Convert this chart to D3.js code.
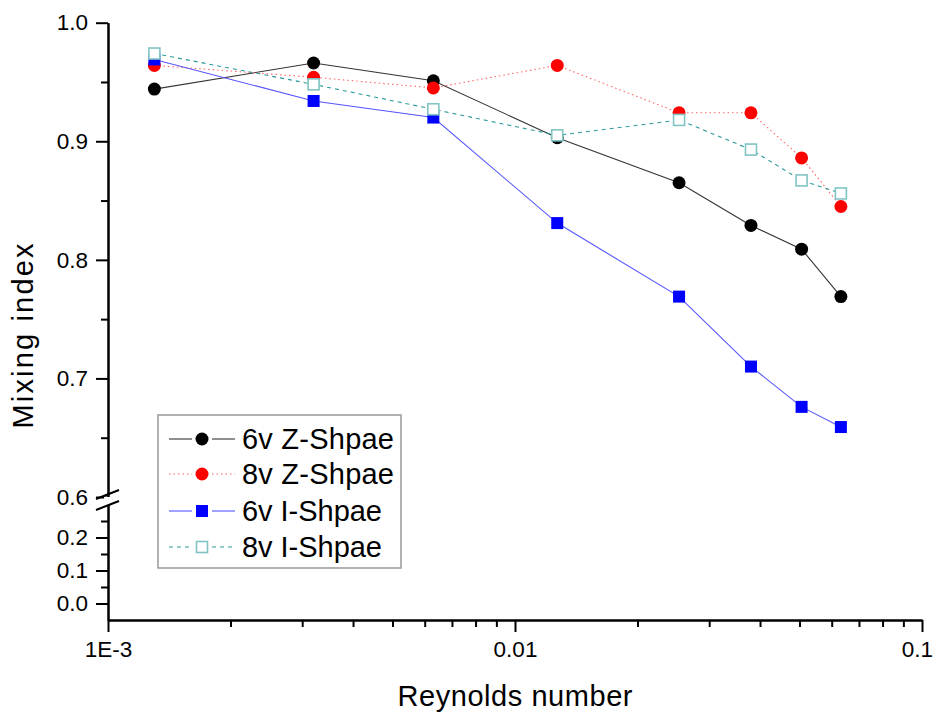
<!DOCTYPE html>
<meta charset="utf-8">
<style>
body { margin: 0; background: #fff; }
text { font-family: "Liberation Sans", Arial, sans-serif; fill: #000; }
.axis path, .axis line { stroke: #000; stroke-width: 2; }
.axis text { font-size: 22.5px; }
</style>
<svg width="936" height="714"></svg>
<script src="https://d3js.org/d3.v7.min.js"></script>
<script>
var reynolds = [0.0013, 0.0032, 0.0063, 0.0127, 0.0253, 0.038, 0.0506, 0.0632];
var z6 = [0.944, 0.966, 0.951, 0.903, 0.865, 0.829, 0.809, 0.769];
var z8 = [0.964, 0.954, 0.945, 0.964, 0.924, 0.924, 0.886, 0.845];
var i6 = [0.969, 0.934, 0.920, 0.831, 0.769, 0.710, 0.676, 0.659];
var i8 = [0.974, 0.948, 0.927, 0.905, 0.918, 0.893, 0.867, 0.856];
var seriesNames = ["6v Z-Shpae", "8v Z-Shpae", "6v I-Shpae", "8v I-Shpae"];

var xTicks = [0.001, 0.01, 0.1];
var xTickLabels = ["1E-3", "0.01", "0.1"];
var yUpperTicks = [0.6, 0.7, 0.8, 0.9, 1.0];
var yLowerTicks = [0.0, 0.1, 0.2];

var svg = d3.select("svg");

var x = d3.scaleLog().domain([0.001, 0.1]).range([108, 922]);
var yUp = d3.scaleLinear().domain([0.6, 1.0]).range([497, 22.7]);
var yLow = d3.scaleLinear().domain([-0.05, 0.3]).range([620, 504.5]);

// styles per series
var styles = [
  {data: z6, line: "#333", dash: null, marker: "circle", fill: "#000", stroke: "none"},
  {data: z8, line: "#f66", dash: "1.5,3", marker: "circle", fill: "#ff0000", stroke: "none"},
  {data: i6, line: "#55f", dash: null, marker: "square", fill: "#0000ff", stroke: "none"},
  {data: i8, line: "#2a9a9a", dash: "4,4", marker: "square", fill: "#fff", stroke: "#80c4c4"}
];

// x axis
var minorX = [];
[0.001, 0.01].forEach(function(d) { for (var k = 2; k < 10; k++) minorX.push(d * k); });

svg.append("g").attr("class", "axis")
    .attr("transform", "translate(0,620)")
    .call(d3.axisBottom(x).tickValues(minorX).tickSize(7).tickSizeOuter(0).tickFormat(""));
var xAxis = svg.append("g").attr("class", "axis")
    .attr("transform", "translate(0,620)")
    .call(d3.axisBottom(x).tickValues(xTicks).tickSize(12).tickSizeOuter(0).tickPadding(9)
      .tickFormat(function(d, i) { return xTickLabels[i]; }));
// last label sits at the right edge
xAxis.selectAll(".tick text").filter(function(d) { return d === 0.1; }).attr("dx", -5);

// upper y axis
svg.append("g").attr("class", "axis")
    .attr("transform", "translate(108,0)")
    .call(d3.axisLeft(yUp).tickValues([0.65, 0.75, 0.85, 0.95]).tickSize(7).tickSizeOuter(0).tickFormat(""));
svg.append("g").attr("class", "axis")
    .attr("transform", "translate(108,0)")
    .call(d3.axisLeft(yUp).tickValues(yUpperTicks).tickSize(12).tickSizeOuter(0).tickPadding(8).tickFormat(d3.format(".1f")));

// lower y axis
svg.append("g").attr("class", "axis")
    .attr("transform", "translate(108,0)")
    .call(d3.axisLeft(yLow).tickValues([0.05, 0.15, 0.25]).tickSize(7).tickSizeOuter(0).tickFormat(""));
svg.append("g").attr("class", "axis")
    .attr("transform", "translate(108,0)")
    .call(d3.axisLeft(yLow).tickValues(yLowerTicks).tickSize(12).tickSizeOuter(0).tickPadding(8).tickFormat(d3.format(".1f")));

// axis break marks
svg.append("rect").attr("x", 104).attr("y", 497).attr("width", 8).attr("height", 8).attr("fill", "#fff");
[[96, 499, 119, 490], [96, 510, 119, 501]].forEach(function(s) {
  svg.append("line").attr("x1", s[0]).attr("y1", s[1]).attr("x2", s[2]).attr("y2", s[3])
      .attr("stroke", "#000").attr("stroke-width", 2);
});

// series
var line = d3.line()
    .x(function(d, i) { return x(reynolds[i]); })
    .y(function(d) { return yUp(d); });

function drawMarker(g, s, cx, cy) {
  if (s.marker === "circle") {
    g.append("circle").attr("cx", cx).attr("cy", cy).attr("r", 6.5).attr("fill", s.fill);
  } else if (s.stroke === "none") {
    g.append("rect").attr("x", cx - 6).attr("y", cy - 6).attr("width", 12).attr("height", 12).attr("fill", s.fill);
  } else {
    g.append("rect").attr("x", cx - 5.5).attr("y", cy - 5.5).attr("width", 11).attr("height", 11)
        .attr("fill", s.fill).attr("stroke", s.stroke).attr("stroke-width", 1.6);
  }
}

styles.forEach(function(s) {
  var g = svg.append("g");
  g.append("path").datum(s.data)
      .attr("d", line)
      .attr("fill", "none")
      .attr("stroke", s.line)
      .attr("stroke-width", 1.1)
      .attr("stroke-dasharray", s.dash);
  s.data.forEach(function(v, i) { drawMarker(g, s, x(reynolds[i]), yUp(v)); });
});

// legend
var legend = svg.append("g");
legend.append("rect").attr("x", 158).attr("y", 415).attr("width", 243).attr("height", 153)
    .attr("fill", "#fff").attr("stroke", "#999").attr("stroke-width", 1.5);
var rowY = [439, 474, 511, 547];
styles.forEach(function(s, i) {
  [[169, 192], [212, 235]].forEach(function(seg) {
    legend.append("line").attr("x1", seg[0]).attr("x2", seg[1]).attr("y1", rowY[i]).attr("y2", rowY[i])
        .attr("stroke", s.line).attr("stroke-width", 1.1).attr("stroke-dasharray", s.dash);
  });
  drawMarker(legend, s, 202, rowY[i]);
  legend.append("text").attr("x", 242).attr("y", rowY[i] + 10)
      .style("font-size", "29px").attr("textLength", i < 2 ? 152 : 140).text(seriesNames[i]);
});

// axis titles
svg.append("text").attr("x", 515).attr("y", 706).attr("text-anchor", "middle")
    .style("font-size", "29px").attr("textLength", 235).text("Reynolds number");
svg.append("text").attr("transform", "translate(33,336) rotate(-90)").attr("text-anchor", "middle")
    .style("font-size", "29px").attr("textLength", 185).text("Mixing index");
</script>
